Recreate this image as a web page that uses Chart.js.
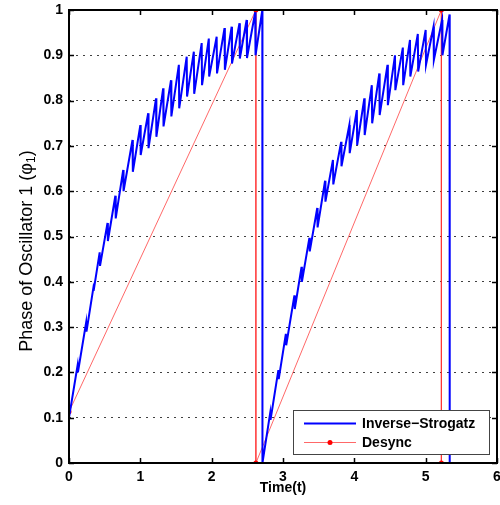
<!DOCTYPE html>
<html>
<head>
<meta charset="utf-8">
<script src="https://cdn.jsdelivr.net/npm/chart.js@4.4.0/dist/chart.umd.min.js"></script>
<style>
  html, body { margin: 0; padding: 0; background: #fff; }
  #wrap { width: 500px; height: 505px; }
</style>
</head>
<body>
<div id="wrap"><canvas id="phase"></canvas></div>
<script>
const xTicks = [0, 1, 2, 3, 4, 5, 6];
const yTicks = [0, 0.1, 0.2, 0.3, 0.4, 0.5, 0.6, 0.7, 0.8, 0.9, 1];

// Inverse-Strogatz: slow rise, small jumps down each time another node fires
const timeInverse = [
    0, 0.12, 0.125, 0.24, 0.245, 0.34, 0.345, 0.43, 0.435, 0.54, 0.545,
    0.65, 0.655, 0.76, 0.765, 0.89, 0.895, 1.0, 1.005, 1.11, 1.115,
    1.22, 1.225, 1.32, 1.325, 1.43, 1.435, 1.54, 1.545, 1.65, 1.655,
    1.75, 1.755, 1.86, 1.865, 1.96, 1.965, 2.07, 2.075, 2.18, 2.185,
    2.28, 2.285, 2.39, 2.395, 2.49, 2.495, 2.61, 2.615, 2.71, 2.712,
    2.82, 2.825, 2.935, 2.94, 3.04, 3.045, 3.16, 3.165, 3.26, 3.265,
    3.37, 3.375, 3.48, 3.485, 3.59, 3.595, 3.70, 3.705, 3.815, 3.82,
    3.93, 3.935, 4.035, 4.04, 4.14, 4.145, 4.245, 4.25, 4.35, 4.355,
    4.465, 4.47, 4.57, 4.575, 4.68, 4.685, 4.78, 4.785, 4.89, 4.895,
    5.0, 5.005, 5.11, 5.115, 5.23, 5.235, 5.335, 5.337
];
const phaseInverse = [
    0.10, 0.215, 0.20, 0.31, 0.29, 0.385, 0.38, 0.465, 0.435, 0.53, 0.49,
    0.59, 0.54, 0.647, 0.60, 0.713, 0.643, 0.746, 0.68, 0.772, 0.695,
    0.805, 0.72, 0.827, 0.743, 0.845, 0.765, 0.879, 0.783, 0.897, 0.809,
    0.908, 0.815, 0.927, 0.834, 0.937, 0.853, 0.941, 0.86, 0.96, 0.868,
    0.963, 0.882, 0.971, 0.893, 0.978, 0.894, 0.995, 0.90, 1.0, 0,
    0.11, 0.095, 0.205, 0.185, 0.285, 0.26, 0.37, 0.34, 0.433, 0.40,
    0.497, 0.467, 0.563, 0.52, 0.623, 0.577, 0.669, 0.615, 0.709, 0.655,
    0.746, 0.684, 0.779, 0.702, 0.805, 0.724, 0.834, 0.75, 0.86, 0.768,
    0.879, 0.79, 0.90, 0.823, 0.917, 0.834, 0.934, 0.853, 0.947, 0.864,
    0.956, 0.879, 0.963, 0.89, 0.978, 0.90, 0.99, 0
];

const timeDesync = [0, 2.62, 2.62, 5.22, 5.22];
const phaseDesync = [0.113, 1, 0, 1, 0];

const seriesNames = ['Inverse\u2212Strogatz', 'Desync'];
const yTitle = ['Phase of Oscillator 1 (\u03c6', '1', ')'];   // middle part is a subscript

const FONT = "'Liberation Sans', Arial, Helvetica, sans-serif";

const toPoints = (xs, ys) => xs.map((t, i) => ({ x: t, y: ys[i] }));

// keep the plot box where the reference has it, labels may hang over the edge
const noLabelPadding = s => {
    s.paddingTop = 0; s.paddingBottom = 0;
    s.paddingLeft = 0; s.paddingRight = 0;
};

// box, inward ticks, y title with subscript and the boxed legend
const framePlugin = {
    id: 'frame',
    afterDatasetsDraw(chart) {
        const { ctx, chartArea: a, scales: { x, y } } = chart;
        ctx.save();
        ctx.strokeStyle = '#000';
        ctx.lineWidth = 1.5;
        ctx.beginPath();
        xTicks.forEach(v => {
            const px = Math.round(x.getPixelForValue(v)) + 0.5;
            ctx.moveTo(px, a.bottom); ctx.lineTo(px, a.bottom - 5);
            ctx.moveTo(px, a.top); ctx.lineTo(px, a.top + 5);
        });
        yTicks.forEach(v => {
            const py = Math.round(y.getPixelForValue(v)) + 0.5;
            ctx.moveTo(a.left, py); ctx.lineTo(a.left + 5, py);
            ctx.moveTo(a.right, py); ctx.lineTo(a.right - 5, py);
        });
        ctx.stroke();
        ctx.lineWidth = 2;
        ctx.strokeRect(a.left, a.top, a.right - a.left, a.bottom - a.top);

        // y title
        const big = '18px ' + FONT, small = '12px ' + FONT;
        ctx.font = big;
        const w0 = ctx.measureText(yTitle[0]).width;
        const w2 = ctx.measureText(yTitle[2]).width;
        ctx.font = small;
        const w1 = ctx.measureText(yTitle[1]).width;
        const total = w0 + w1 + w2;
        ctx.save();
        ctx.translate(27, 251);
        ctx.rotate(-Math.PI / 2);
        ctx.fillStyle = '#000';
        ctx.textBaseline = 'middle';
        ctx.textAlign = 'left';
        let cx = -total / 2;
        ctx.font = big;
        ctx.fillText(yTitle[0], cx, 0);
        cx += w0;
        ctx.font = small;
        ctx.fillText(yTitle[1], cx, 5);
        cx += w1;
        ctx.font = big;
        ctx.fillText(yTitle[2], cx, 0);
        ctx.restore();

        // legend
        const w = 196, h = 44;
        const bx = Math.round(a.right - 8 - w), by = Math.round(a.bottom - 9 - h);
        ctx.fillStyle = '#fff';
        ctx.fillRect(bx, by, w, h);
        ctx.strokeStyle = '#444';
        ctx.lineWidth = 1;
        ctx.strokeRect(bx + 0.5, by + 0.5, w, h);
        ctx.font = 'bold 14px ' + FONT;
        ctx.textBaseline = 'middle';
        chart.data.datasets.forEach((ds, i) => {
            const ly = by + 13.5 + i * 19;
            ctx.strokeStyle = ds.borderColor;
            ctx.lineWidth = ds.borderWidth;
            ctx.beginPath();
            ctx.moveTo(bx + 11, ly);
            ctx.lineTo(bx + 63, ly);
            ctx.stroke();
            if (ds.pointRadius > 0) {
                ctx.fillStyle = ds.pointBackgroundColor;
                ctx.beginPath();
                ctx.arc(bx + 37, ly, ds.pointRadius, 0, Math.PI * 2);
                ctx.fill();
            }
            ctx.fillStyle = '#000';
            ctx.fillText(ds.label, bx + 69, ly + 1);
        });
        ctx.restore();
    }
};

new Chart(document.getElementById('phase'), {
    type: 'scatter',
    data: {
        datasets: [
            {
                label: seriesNames[0],
                data: toPoints(timeInverse, phaseInverse),
                showLine: true,
                borderColor: '#0000ff',
                borderWidth: 2,
                pointRadius: 0,
                tension: 0
            },
            {
                label: seriesNames[1],
                data: toPoints(timeDesync, phaseDesync),
                showLine: true,
                borderColor: 'rgba(255, 40, 40, 0.7)',
                borderWidth: 1,
                pointRadius: 2.5,
                pointBackgroundColor: '#ff0000',
                pointBorderWidth: 0,
                tension: 0
            }
        ]
    },
    options: {
        responsive: true,
        maintainAspectRatio: false,
        animation: false,
        layout: { padding: { top: 10, right: 3, left: 0, bottom: 0 }, autoPadding: false },
        plugins: {
            legend: { display: false },
            tooltip: { enabled: false }
        },
        scales: {
            x: {
                type: 'linear',
                min: 0,
                max: 6,
                afterBuildTicks: s => { s.ticks = xTicks.map(v => ({ value: v })); },
                afterFit: s => { s.height = 42; noLabelPadding(s); },
                grid: { display: false, drawTicks: false },
                border: { display: false },
                ticks: {
                    padding: 6,
                    color: '#000',
                    maxRotation: 0,
                    font: { family: FONT, size: 14, weight: 'bold' }
                },
                title: {
                    display: true,
                    text: 'Time(t)',
                    color: '#000',
                    padding: { top: 0, bottom: 8 },
                    font: { family: FONT, size: 14, weight: 'bold' }
                }
            },
            y: {
                min: 0,
                max: 1,
                afterBuildTicks: s => { s.ticks = yTicks.map(v => ({ value: v })); },
                afterFit: s => { s.width = 69; noLabelPadding(s); },
                grid: {
                    drawTicks: false,
                    lineWidth: 1,
                    color: c => (c.tick && (c.tick.value === 0 || c.tick.value === 1)) ? 'rgba(0,0,0,0)' : 'rgba(0,0,0,0.75)'
                },
                border: { display: false, dash: [2, 5] },
                ticks: {
                    padding: 6,
                    color: '#000',
                    callback: v => String(v),
                    font: { family: FONT, size: 14, weight: 'bold' }
                },
                title: { display: false }
            }
        }
    },
    plugins: [framePlugin]
});
</script>
</body>
</html>
